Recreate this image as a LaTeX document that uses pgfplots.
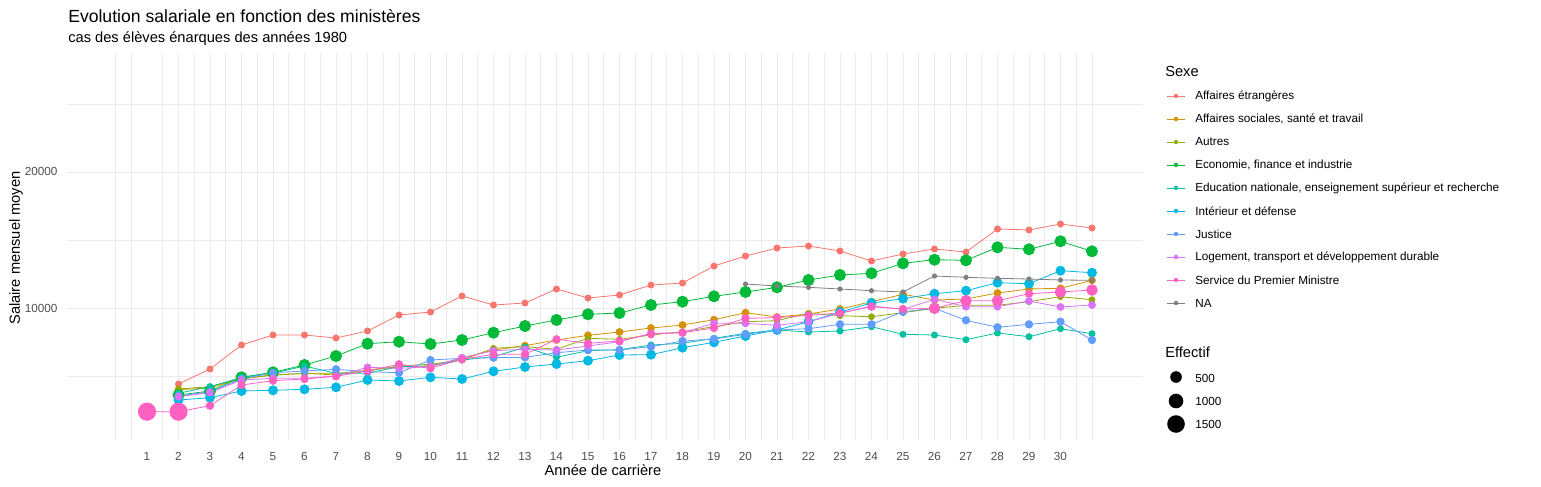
\documentclass[border=0pt]{standalone}
\usepackage{pgfplots}
\pgfplotsset{compat=1.18}
\usepackage{fontspec}
\setmainfont{Liberation Sans}
\definecolor{cA}{HTML}{F8766D}
\definecolor{cB}{HTML}{D39200}
\definecolor{cC}{HTML}{93AA00}
\definecolor{cD}{HTML}{00BA38}
\definecolor{cE}{HTML}{00C19F}
\definecolor{cF}{HTML}{00B9E3}
\definecolor{cG}{HTML}{619CFF}
\definecolor{cH}{HTML}{DB72FB}
\definecolor{cI}{HTML}{FF61C3}
\definecolor{cJ}{HTML}{7F7F7F}
\definecolor{grd}{HTML}{EBEBEB}
\definecolor{tck}{HTML}{4D4D4D}
\newcommand\fs[1]{\fontsize{#1}{#1}\selectfont}
\begin{document}
\begin{tikzpicture}[x=0.75pt,y=-0.75pt]
\begin{axis}[at={(0,0)},anchor=south west,
  scale only axis, width=807pt, height=290.25pt,
  xmin=-1.54, xmax=32.62, ymin=298, ymax=28743,
  axis line style={draw=none}, tick style={draw=none},
  xtick={1,...,30}, ytick={10000,20000},
  minor xtick={0,0.5,1.5,2,2.5,...,31},
  minor ytick={5000,15000,25000},
  grid=both, major grid style={grd, line width=0.6pt}, minor grid style={grd, line width=0.6pt},
  xmajorgrids=false,
  ticklabel style={font=\fs{8.8}, text=tck},
  xticklabel style={inner sep=0pt, anchor=north, yshift=-9pt},
  yticklabel style={inner sep=0pt, anchor=east, xshift=-7pt},
  /pgf/number format/assume math mode=true,
  scaled y ticks=false, yticklabel={\pgfmathprintnumber[fixed,1000 sep={}]{\tick}},
  every axis plot/.append style={line width=0.6pt, mark=*},
  clip=false]
\addplot[cA, mark size=2.3pt] coordinates {(2,4414)(3,5516)(4,7280)(5,8015)(6,8015)(7,7795)(8,8310)(9,9485)(10,9706)(11,10882)(12,10220)(13,10368)(14,11397)(15,10735)(16,10956)(17,11690)(18,11838)(19,13087)(20,13822)(21,14410)(22,14557)(23,14190)(24,13455)(25,13969)(26,14337)(27,14116)(28,15807)(29,15733)(30,16174)(31,15880)};
\addplot[cB, mark size=2.6pt] coordinates {(2,4000)(3,4120)(4,4833)(5,5075)(6,5200)(7,5075)(8,5443)(9,5686)(10,5737)(11,6300)(12,6913)(13,7229)(14,7648)(15,7993)(16,8236)(17,8530)(18,8750)(19,9140)(20,9655)(21,9339)(22,9559)(23,9926)(24,10463)(25,11007)(26,10588)(27,10662)(28,11103)(29,11397)(30,11448)(31,12036)};
\addplot[cC, mark size=2.2pt] coordinates {(2,4046)(3,4216)(4,4782)(5,5075)(6,5200)(7,5200)(8,5370)(9,5737)(10,5862)(11,6178)(12,7038)(13,7156)(14,6965)(15,7773)(16,7700)(17,8015)(18,8258)(19,8626)(20,8993)(21,9067)(22,9610)(23,9434)(24,9361)(25,9655)(26,9978)(27,10198)(28,10198)(29,10463)(30,10831)(31,10610)};
\addplot[cD, mark size=4.2pt] coordinates {(2,3600)(3,3900)(4,4906)(5,5274)(6,5810)(7,6472)(8,7376)(9,7523)(10,7354)(11,7648)(12,8185)(13,8677)(14,9118)(15,9537)(16,9632)(17,10220)(18,10463)(19,10860)(20,11176)(21,11521)(22,12058)(23,12425)(24,12550)(25,13285)(26,13550)(27,13506)(28,14461)(29,14314)(30,14903)(31,14167)};
\addplot[cE, mark size=2.3pt] coordinates {(2,3729)(3,4216)(4,4906)(5,5200)(6,5737)(7,5200)(8,5200)(9,5686)(10,5737)(11,6178)(12,6420)(13,7111)(14,6377)(15,6862)(16,6935)(17,7280)(18,7405)(19,7773)(20,8140)(21,8383)(22,8236)(23,8310)(24,8626)(25,8067)(26,8015)(27,7670)(28,8162)(29,7890)(30,8479)(31,8111)};
\addplot[cF, mark size=3.4pt] coordinates {(2,3238)(3,3407)(4,3900)(5,3951)(6,4024)(7,4171)(8,4708)(9,4635)(10,4906)(11,4782)(12,5347)(13,5663)(14,5884)(15,6126)(16,6545)(17,6568)(18,7082)(19,7479)(20,7942)(21,8383)(22,8993)(23,9706)(24,10368)(25,10684)(26,11051)(27,11272)(28,11860)(29,11786)(30,12742)(31,12595)};
\addplot[cG, mark size=2.8pt] coordinates {(2,3532)(3,3847)(4,4782)(5,5244)(6,5370)(7,5494)(8,5318)(9,5244)(10,6178)(11,6300)(12,6348)(13,6377)(14,6715)(15,6913)(16,6913)(17,7156)(18,7574)(19,7720)(20,8067)(21,8383)(22,8479)(23,8800)(24,8800)(25,9728)(26,9978)(27,9096)(28,8581)(29,8800)(30,8993)(31,7648)};
\addplot[cH, mark size=2.6pt] coordinates {(2,3483)(3,3777)(4,4708)(5,4833)(6,4833)(7,5002)(8,5641)(9,5568)(10,5686)(11,6348)(12,6862)(13,6965)(14,6913)(15,7207)(16,7523)(17,8140)(18,8185)(19,8874)(20,8874)(21,8727)(22,8993)(23,9610)(24,10147)(25,9902)(26,10639)(27,10096)(28,10096)(29,10514)(30,10073)(31,10220)};
\addplot[cI, mark size=2.8pt] coordinates {(1,2380)(2,2380)(3,2819)(4,4340)(5,4657)(6,4782)(7,4980)(8,5370)(9,5862)(10,5568)(11,6230)(12,6597)(13,6597)(14,7700)(15,7406)(16,7574)(17,8089)(18,8185)(19,8530)(20,9240)(21,9290)(22,9464)(23,9632)(24,10096)(25,9926)(26,9978)(27,10537)(28,10537)(29,11051)(30,11176)(31,11323)};
\addplot[cI, only marks, mark size=6.5pt] coordinates {(1,2380)(2,2380)};
\addplot[cI, only marks, mark size=4pt] coordinates {(26,9978)(27,10537)(28,10537)(30,11176)(31,11323)};
\addplot[cJ, mark size=1.6pt] coordinates {(20,11764)(21,11617)(22,11521)(23,11397)(24,11272)(25,11176)(26,12352)(27,12256)(28,12183)(29,12131)(30,12058)(31,12036)};
\end{axis}
\begin{scope}[shift={(-67,-440)}]
\useasboundingbox (0,0) rectangle (1541,486);
\node[anchor=west, inner sep=0pt, font=\fs{13.2}] at (68,16) {Evolution salariale en fonction des ministères};
\node[anchor=west, inner sep=0pt, font=\fs{11}] at (68,39) {cas des élèves énarques des années 1980};
\node[rotate=90, inner sep=0pt, font=\fs{11}] at (16,248) {Salaire mensuel moyen};
\node[inner sep=0pt, font=\fs{11}] at (603,470) {Année de carrière};
\node[anchor=west, inner sep=0pt, font=\fs{11}] at (1165,71) {Sexe};
\foreach \c/\t [count=\i from 0] in {cA/Affaires étrangères, cB/{Affaires sociales, santé et travail}, cC/Autres, cD/{Economie, finance et industrie}, cE/{Education nationale, enseignement supérieur et recherche}, cF/Intérieur et défense, cG/Justice, cH/{Logement, transport et développement durable}, cI/Service du Premier Ministre, cJ/NA}{
  \draw[\c, line width=0.6pt] (1167,96+23*\i) -- (1185,96+23*\i);
  \fill[\c] (1176,96+23*\i) circle (2.2);
  \node[anchor=west, inner sep=0pt, font=\fs{8.8}] at (1195,96+23*\i) {\t};
}
\node[anchor=west, inner sep=0pt, font=\fs{11}] at (1165,352) {Effectif};
\fill (1176,377) circle (5.8); \node[anchor=west, inner sep=0pt, font=\fs{8.8}] at (1195,378) {500};
\fill (1176,401) circle (7.3); \node[anchor=west, inner sep=0pt, font=\fs{8.8}] at (1195,401) {1000};
\fill (1176,424) circle (8.8); \node[anchor=west, inner sep=0pt, font=\fs{8.8}] at (1195,424) {1500};
\end{scope}
\end{tikzpicture}
\end{document}
